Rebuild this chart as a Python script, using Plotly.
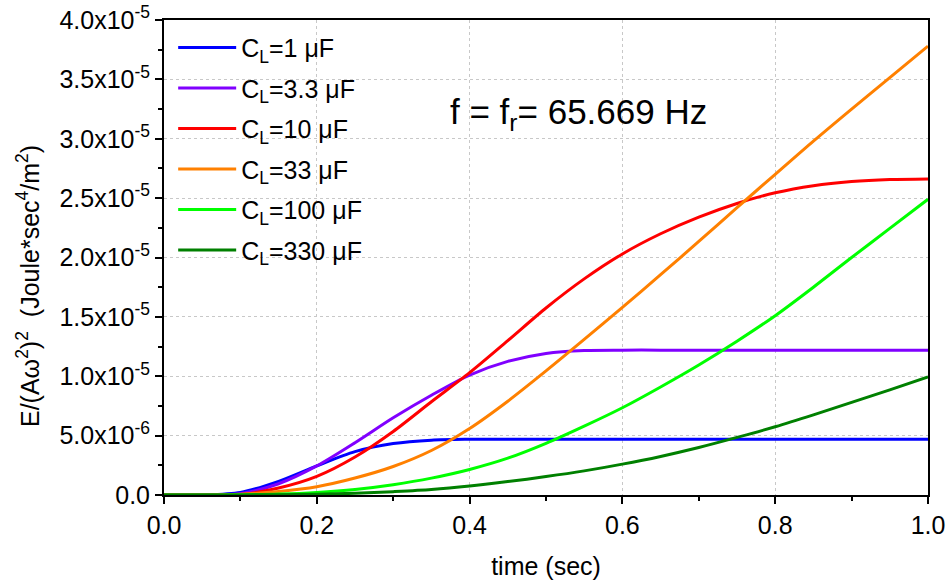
import plotly.graph_objects as go

# Time samples (s) and stored energy E/(A*w^2)^2 in units of 1e-6 J*s^4/m^2
time_s = [0.00, 0.05, 0.10, 0.15, 0.20, 0.25, 0.30, 0.35, 0.40, 0.45, 0.50,
          0.55, 0.60, 0.65, 0.70, 0.75, 0.80, 0.85, 0.90, 0.95, 1.00]

e_1uF = [0.0, 0.01, 0.22, 1.15, 2.45, 3.65, 4.33, 4.62, 4.69, 4.70, 4.70,
         4.70, 4.70, 4.70, 4.70, 4.70, 4.70, 4.70, 4.70, 4.70, 4.70]
e_3p3uF = [0.0, 0.01, 0.11, 0.95, 2.45, 4.40, 6.50, 8.40, 10.1, 11.25, 11.92,
           12.17, 12.2, 12.2, 12.2, 12.2, 12.2, 12.2, 12.2, 12.2, 12.2]
e_10uF = [0.0, 0.0, 0.05, 0.59, 1.57, 3.20, 5.35, 7.85, 10.3, 13.0, 15.75,
          18.2, 20.3, 22.0, 23.4, 24.55, 25.45, 26.05, 26.4, 26.57, 26.62]
e_33uF = [0.0, 0.0, 0.07, 0.30, 0.70, 1.43, 2.40, 3.75, 5.60, 7.90, 10.45,
          13.1, 15.8, 18.55, 21.35, 24.2, 27.0, 29.8, 32.5, 35.15, 37.8]
e_100uF = [0.0, 0.0, 0.02, 0.08, 0.22, 0.47, 0.87, 1.42, 2.15, 3.10, 4.35,
           5.80, 7.35, 9.10, 10.95, 12.95, 15.1, 17.5, 20.0, 22.45, 24.9]
e_330uF = [0.0, 0.0, 0.005, 0.03, 0.07, 0.14, 0.28, 0.46, 0.75, 1.13, 1.55,
           2.03, 2.60, 3.25, 4.00, 4.85, 5.75, 6.75, 7.80, 8.85, 9.95]

series_labels = ["C<sub>L</sub>=1 \u03bcF", "C<sub>L</sub>=3.3 \u03bcF",
                 "C<sub>L</sub>=10 \u03bcF", "C<sub>L</sub>=33 \u03bcF",
                 "C<sub>L</sub>=100 \u03bcF", "C<sub>L</sub>=330 \u03bcF"]
series_values = [e_1uF, e_3p3uF, e_10uF, e_33uF, e_100uF, e_330uF]
series_colors = ["#0000FF", "#8000FF", "#FF0000", "#FF8000", "#00FF00", "#008000"]

y_tick_vals = [0, 5e-6, 1.0e-5, 1.5e-5, 2.0e-5, 2.5e-5, 3.0e-5, 3.5e-5, 4.0e-5]
y_tick_text = ["0.0", "5.0x10<sup>-6</sup>", "1.0x10<sup>-5</sup>",
               "1.5x10<sup>-5</sup>", "2.0x10<sup>-5</sup>", "2.5x10<sup>-5</sup>",
               "3.0x10<sup>-5</sup>", "3.5x10<sup>-5</sup>", "4.0x10<sup>-5</sup>"]
x_tick_vals = [0.0, 0.2, 0.4, 0.6, 0.8, 1.0]
x_tick_text = ["0.0", "0.2", "0.4", "0.6", "0.8", "1.0"]

FONT = "Liberation Sans, Arial, sans-serif"
MICRO = 1e-6

fig = go.Figure()
for i, (label, vals, color) in enumerate(zip(series_labels, series_values, series_colors)):
    fig.add_trace(go.Scatter(
        x=time_s, y=[v * MICRO for v in vals], mode="lines", name=label,
        line=dict(color=color, width=3, shape="spline", smoothing=0.8),
        legendgroup=f"g{i}",
    ))

axis_common = dict(showline=True, linecolor="black", linewidth=2,
                   ticks="outside", ticklen=7, tickwidth=1.5, tickcolor="black",
                   mirror=True, zeroline=False, automargin=False,
                   tickfont=dict(family=FONT, size=25, color="black"))

fig.update_layout(
    width=950, height=582,
    margin=dict(l=164, r=22, t=20, b=87, autoexpand=False),
    paper_bgcolor="white", plot_bgcolor="white",
    font=dict(family=FONT, color="black"),
    showlegend=True,
    legend=dict(x=0.012, y=0.99, xanchor="left", yanchor="top",
                bgcolor="rgba(0,0,0,0)", borderwidth=0,
                font=dict(family=FONT, size=25, color="black"),
                traceorder="grouped", tracegroupgap=5, itemwidth=58),
    xaxis=dict(range=[0, 1], tickvals=x_tick_vals, ticktext=x_tick_text,
               showgrid=True, gridcolor="#c8c8c8", griddash="dot", gridwidth=1,
               minor=dict(ticks="outside", ticklen=4, tickwidth=1.5,
                          tickcolor="black", dtick=0.1, showgrid=False),
               title=dict(text="time (sec)", standoff=19,
                          font=dict(family=FONT, size=25, color="black")),
               **axis_common),
    yaxis=dict(range=[0, 4e-5], tickvals=y_tick_vals, ticktext=y_tick_text,
               showgrid=True, gridcolor="#c8c8c8", griddash="dot", gridwidth=1,
               minor=dict(ticks="outside", ticklen=4, tickwidth=1.5,
                          tickcolor="black", dtick=2.5e-6, showgrid=False),
               **axis_common),
    # mirrored axes on top and right carry inward-pointing ticks
    xaxis2=dict(overlaying="x", side="top", range=[0, 1], dtick=0.2,
                ticks="inside", ticklen=7, tickwidth=1.5, tickcolor="black",
                showticklabels=False, showgrid=False, showline=False, zeroline=False,
                minor=dict(ticks="inside", ticklen=4, tickwidth=1.5,
                           tickcolor="black", dtick=0.1)),
    yaxis2=dict(overlaying="y", side="right", range=[0, 4e-5], dtick=5e-6,
                ticks="inside", ticklen=7, tickwidth=1.5, tickcolor="black",
                showticklabels=False, showgrid=False, showline=False, zeroline=False,
                minor=dict(ticks="inside", ticklen=4, tickwidth=1.5,
                           tickcolor="black", dtick=2.5e-6)),
)

fig.add_annotation(
    text="f = f<sub>r</sub>= 65.669 Hz", xref="paper", yref="paper",
    x=0.542, y=0.852, showarrow=False,
    font=dict(family=FONT, size=35, color="black"),
)

fig.add_annotation(
    text="E/(A\u03c9<sup>2</sup>)<sup>2</sup>  (Joule*sec<sup>4</sup>/m<sup>2</sup>)",
    xref="paper", yref="paper", x=-0.178, y=0.44, textangle=-90,
    showarrow=False, xanchor="center", yanchor="middle",
    font=dict(family=FONT, size=25, color="black"),
)

fig.write_html("out.html")
